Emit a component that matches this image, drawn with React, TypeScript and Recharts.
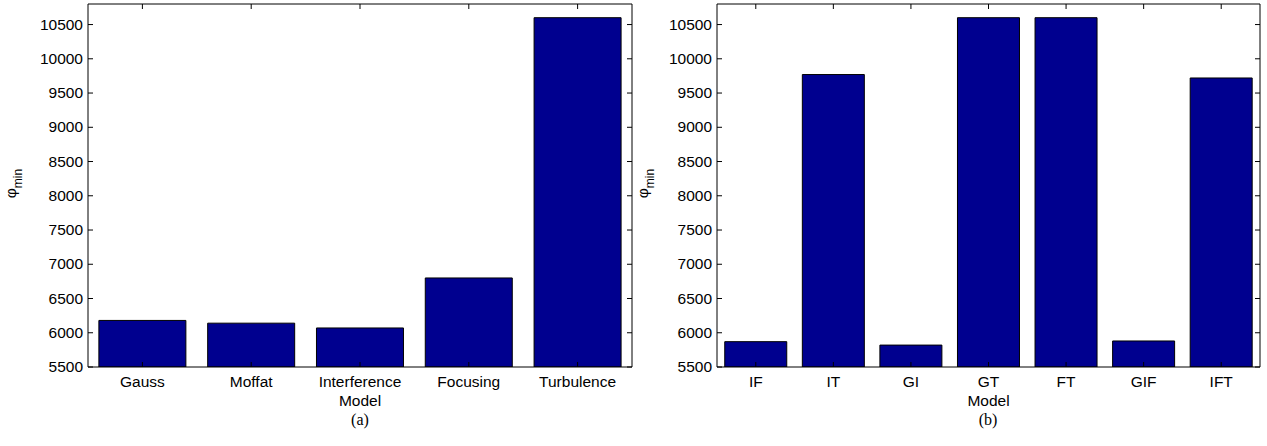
import React from 'react';
import { BarChart, Bar, XAxis, YAxis } from 'recharts';

// panel (a): single-effect models
const modelsA = ['Gauss', 'Moffat', 'Interference\nModel', 'Focusing', 'Turbulence'];
const phiMinA = [6180, 6140, 6070, 6800, 10600];

// panel (b): combined models
const modelsB = ['IF', 'IT', 'GI', 'GT', 'FT', 'GIF', 'IFT'];
const phiMinB = [5870, 9770, 5820, 10600, 10600, 5880, 9720];

const yTicks = [5500, 6000, 6500, 7000, 7500, 8000, 8500, 9000, 9500, 10000, 10500];
const yDomain = [5500, 10800];

const FONT = '"Liberation Sans", Arial, Helvetica, sans-serif';
const FS = 15.5;
const BAR_FILL = '#00008f';
const TICK_LEN = 5;

const LeftTick = (props: any) => {
    const { x, y, payload } = props;
    return (
        <g>
            <line x1={x} x2={x + TICK_LEN} y1={y} y2={y} stroke="#000" />
            <text x={x - 5} y={y} dy={5} textAnchor="end" fontSize={FS} fontFamily={FONT} fill="#000">
                {payload.value}
            </text>
        </g>
    );
};

const RightTick = (props: any) => {
    const { x, y } = props;
    return <line x1={x} x2={x - TICK_LEN} y1={y} y2={y} stroke="#000" />;
};

const TopTick = (props: any) => {
    const { x, y } = props;
    return <line x1={x} x2={x} y1={y} y2={y + TICK_LEN} stroke="#000" />;
};

const BottomTick = (props: any) => {
    const { x, y, payload } = props;
    const lines = String(payload.value).split('\n');
    return (
        <g>
            <line x1={x} x2={x} y1={y} y2={y - TICK_LEN} stroke="#000" />
            <text x={x} y={y} textAnchor="middle" fontSize={FS} fontFamily={FONT} fill="#000">
                {lines.map((l, i) => (
                    <tspan key={i} x={x} dy={i === 0 ? 20 : 19}>{l}</tspan>
                ))}
            </text>
        </g>
    );
};

const PhiLabel = (props: any) => {
    const { viewBox, offsetX } = props;
    const cx = viewBox.x + offsetX;
    const cy = viewBox.y + viewBox.height / 2 - 2;
    return (
        <text transform={`rotate(-90 ${cx} ${cy})`} x={cx} y={cy} textAnchor="middle" fontSize={FS} fontFamily={FONT} fill="#000">
            φ<tspan fontSize={12} dy={6}>min</tspan>
        </text>
    );
};

const ModelLabel = (props: any) => {
    const { viewBox } = props;
    return (
        <text x={viewBox.x + viewBox.width / 2} y={viewBox.y + 39} textAnchor="middle" fontSize={FS} fontFamily={FONT} fill="#000">
            Model
        </text>
    );
};

interface PanelProps {
    models: string[];
    values: number[];
    width: number;
    axisWidth: number;
    marginRight: number;
    labelOffset: number;
    showModel: boolean;
}

const Panel: React.FC<PanelProps> = ({ models, values, width, axisWidth, marginRight, labelOffset, showModel }) => {
    const data = models.map((m, i) => ({ model: m, phi: values[i] }));
    const axisLine = { stroke: '#000', strokeWidth: 1 };
    return (
        <BarChart
            width={width}
            height={446}
            data={data}
            margin={{ top: 3, right: marginRight, bottom: 49, left: 0 }}
            barCategoryGap="10%"
        >
            <XAxis
                dataKey="model"
                interval={0}
                height={30}
                tickSize={0}
                tickMargin={0}
                tickLine={false}
                axisLine={axisLine}
                tick={<BottomTick />}
                label={showModel ? <ModelLabel /> : undefined}
            />
            <XAxis
                xAxisId="top"
                orientation="top"
                dataKey="model"
                interval={0}
                height={1}
                tickSize={0}
                tickMargin={0}
                tickLine={false}
                axisLine={axisLine}
                tick={<TopTick />}
            />
            <YAxis
                domain={yDomain}
                ticks={yTicks}
                width={axisWidth}
                tickSize={0}
                tickMargin={0}
                tickLine={false}
                axisLine={axisLine}
                tick={<LeftTick />}
                label={<PhiLabel offsetX={labelOffset} />}
                allowDataOverflow
            />
            <YAxis
                yAxisId="right"
                orientation="right"
                domain={yDomain}
                ticks={yTicks}
                width={1}
                tickSize={0}
                tickMargin={0}
                tickLine={false}
                axisLine={axisLine}
                tick={<RightTick />}
                allowDataOverflow
            />
            <Bar dataKey="phi" fill={BAR_FILL} stroke="#000" strokeWidth={1} isAnimationActive={false} />
        </BarChart>
    );
};

const captionStyle: React.CSSProperties = {
    position: 'absolute',
    top: 410,
    fontFamily: '"Liberation Serif", "Times New Roman", serif',
    fontSize: 16,
    width: 40,
    marginLeft: -20,
    textAlign: 'center',
    lineHeight: '20px',
};

export default function App() {
    return (
        <div style={{ position: 'absolute', left: 0, top: 0, width: 1267, height: 446, background: '#fff', overflow: 'hidden' }}>
            <div style={{ position: 'absolute', left: 0, top: 0 }}>
                <Panel models={modelsA} values={phiMinA} width={636} axisWidth={88} marginRight={3} labelOffset={16} showModel={false} />
            </div>
            <div style={{ position: 'absolute', left: 626, top: 0 }}>
                <Panel models={modelsB} values={phiMinB} width={641} axisWidth={91} marginRight={6} labelOffset={22} showModel={true} />
            </div>
            <div style={{ ...captionStyle, left: 360 }}>(a)</div>
            <div style={{ ...captionStyle, left: 988 }}>(b)</div>
        </div>
    );
}
